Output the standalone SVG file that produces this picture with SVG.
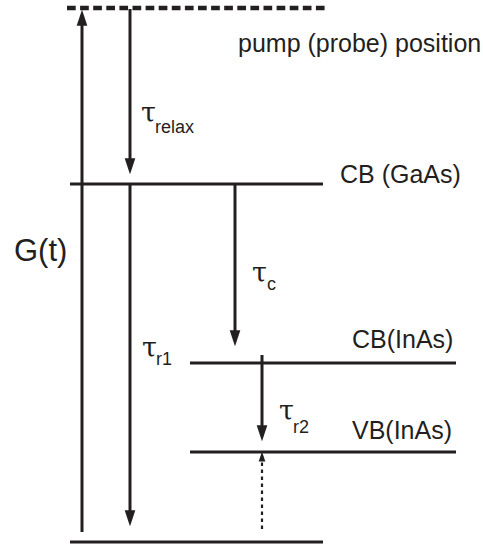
<svg xmlns="http://www.w3.org/2000/svg" width="483" height="547" viewBox="0 0 483 547">
<style>
.lvl{stroke:#231f20;stroke-width:3;fill:none}
.arr{stroke:#231f20;stroke-width:3;fill:none;marker-end:url(#ah)}
.dot{stroke:#231f20;stroke-width:2.2;fill:none;stroke-dasharray:3.5 3.5;marker-end:url(#ahs)}
text{font-family:"Liberation Sans",Arial,sans-serif;fill:#231f20}
.lab{font-size:25px}
.tau{font-size:27px;font-family:"DejaVu Serif","Liberation Serif",serif}
.sub{font-size:18px}
</style>
<defs>
<marker id="ah" markerUnits="userSpaceOnUse" markerWidth="16" markerHeight="12" viewBox="0 0 15 10" refX="10" refY="5" orient="auto">
<path d="M0,0 L15,5 L0,10 z" fill="#231f20"/>
</marker>
<marker id="ahs" markerUnits="userSpaceOnUse" markerWidth="10" markerHeight="8" viewBox="0 0 9 6" refX="5" refY="3" orient="auto">
<path d="M0,0 L9,3 L0,6 z" fill="#231f20"/>
</marker>
</defs>
<g id="pump">
<line x1="67" y1="8" x2="327" y2="8" stroke="#231f20" stroke-width="4.5" stroke-dasharray="8.7 4.4"/>
<text class="lab" x="238" y="52">pump (probe) position</text>
</g>
<g id="cb-gaas">
<line class="lvl" x1="70" y1="184" x2="323" y2="184"/>
<text class="lab" x="340" y="183">CB (GaAs)</text>
</g>
<g id="cb-inas">
<line class="lvl" x1="190" y1="363" x2="456" y2="363"/>
<text class="lab" x="352" y="348">CB(InAs)</text>
</g>
<g id="vb-inas">
<line class="lvl" x1="190" y1="452" x2="456" y2="452"/>
<text class="lab" x="352" y="439">VB(InAs)</text>
</g>
<g id="ground">
<line class="lvl" x1="70" y1="542" x2="323" y2="542"/>
</g>
<g id="connectors">
<line class="arr" x1="82" y1="532" x2="82" y2="15"/>
<line class="arr" x1="130" y1="9" x2="130" y2="169"/>
<line class="arr" x1="130" y1="183" x2="130" y2="521"/>
<line class="arr" x1="235" y1="183" x2="235" y2="341"/>
<line class="arr" x1="262" y1="355" x2="262" y2="436"/>
<line class="dot" x1="262" y1="529" x2="262" y2="456"/>
</g>
<g id="labels">
<text x="14" y="261" font-size="31">G(t)</text>
<text class="tau" x="141" y="122">τ</text><text class="sub" x="155" y="133">relax</text>
<text class="tau" x="252" y="282">τ</text><text class="sub" x="267" y="290">c</text>
<text class="tau" x="142" y="357">τ</text><text class="sub" x="156" y="365">r1</text>
<text class="tau" x="279" y="420">τ</text><text class="sub" x="293" y="433">r2</text>
</g>
</svg>
